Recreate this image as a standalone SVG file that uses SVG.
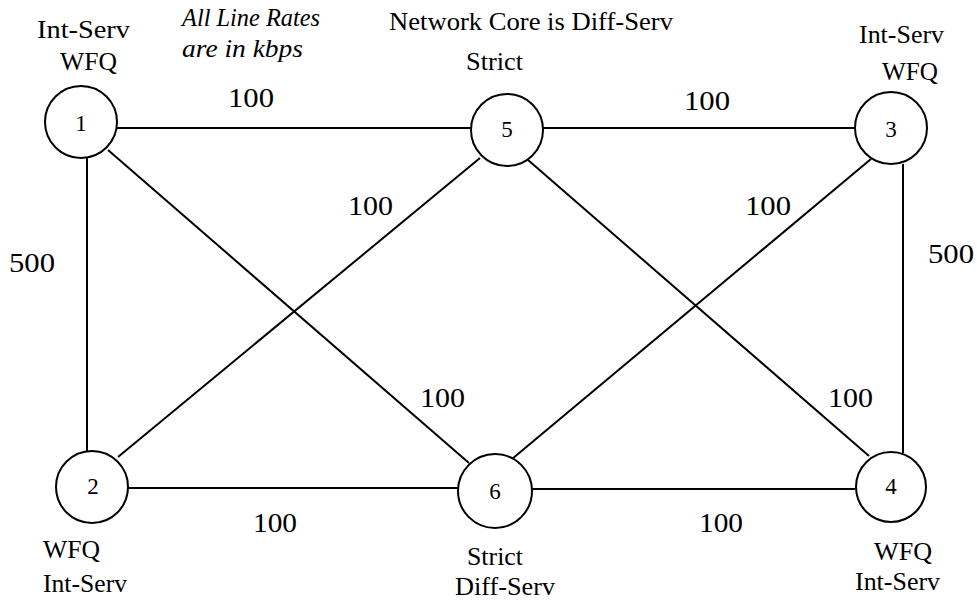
<svg xmlns="http://www.w3.org/2000/svg" width="977" height="602" viewBox="0 0 977 602" font-family="'Liberation Serif', 'DejaVu Serif', 'Times New Roman', serif">
  <style>
    text { font-family: "Liberation Serif", "DejaVu Serif", "Times New Roman", serif; fill: #000; }
    .cap { font-size: 26px; }
    .rate { font-size: 28px; }
    .num { font-size: 23px; text-anchor: middle; }
    .note { font-size: 25px; font-style: italic; }
    .link { stroke: #000; stroke-width: 2; fill: none; }
    .node { stroke: #000; stroke-width: 2; fill: #fff; }
  </style>

  <rect width="977" height="602" fill="#fff"/>

  <!-- links -->
  <g id="links">
    <line class="link" x1="117" y1="128" x2="471" y2="128"/>
    <line class="link" x1="543" y1="128" x2="855" y2="128"/>
    <line class="link" x1="128" y1="488" x2="458" y2="488"/>
    <line class="link" x1="532" y1="489" x2="855" y2="489"/>
    <line class="link" x1="87" y1="157" x2="87" y2="451"/>
    <line class="link" x1="903" y1="164" x2="903" y2="453"/>
    <line class="link" x1="108" y1="150" x2="469" y2="463"/>
    <line class="link" x1="480" y1="158" x2="118" y2="457"/>
    <line class="link" x1="528" y1="160" x2="869" y2="456"/>
    <line class="link" x1="871" y1="159" x2="512" y2="459"/>
  </g>

  <!-- link rates -->
  <g id="rates">
    <text class="rate" x="228" y="107" textLength="46" lengthAdjust="spacingAndGlyphs">100</text>
    <text class="rate" x="684" y="110" textLength="46" lengthAdjust="spacingAndGlyphs">100</text>
    <text class="rate" x="348" y="215" textLength="45" lengthAdjust="spacingAndGlyphs">100</text>
    <text class="rate" x="745" y="215" textLength="46" lengthAdjust="spacingAndGlyphs">100</text>
    <text class="rate" x="9" y="272" textLength="46" lengthAdjust="spacingAndGlyphs">500</text>
    <text class="rate" x="928" y="263" textLength="46" lengthAdjust="spacingAndGlyphs">500</text>
    <text class="rate" x="420" y="407" textLength="45" lengthAdjust="spacingAndGlyphs">100</text>
    <text class="rate" x="828" y="407" textLength="45" lengthAdjust="spacingAndGlyphs">100</text>
    <text class="rate" x="253" y="532" textLength="44" lengthAdjust="spacingAndGlyphs">100</text>
    <text class="rate" x="699" y="532" textLength="44" lengthAdjust="spacingAndGlyphs">100</text>
  </g>

  <!-- headings -->
  <g id="notes">
    <text class="note" x="182" y="26" textLength="138" lengthAdjust="spacingAndGlyphs">All Line Rates</text>
    <text class="note" x="182" y="57" textLength="121" lengthAdjust="spacingAndGlyphs">are in kbps</text>
    <text class="cap" x="389" y="30" textLength="284" lengthAdjust="spacingAndGlyphs">Network Core is Diff-Serv</text>
  </g>

  <g id="node1">
    <circle class="node" cx="81" cy="122" r="36"/>
    <text class="num" x="81" y="131">1</text>
    <text class="cap" x="37" y="38" textLength="93" lengthAdjust="spacingAndGlyphs">Int-Serv</text>
    <text class="cap" x="60" y="70" textLength="57" lengthAdjust="spacingAndGlyphs">WFQ</text>
  </g>

  <g id="node5">
    <circle class="node" cx="507" cy="130" r="36"/>
    <text class="num" x="507" y="137">5</text>
    <text class="cap" x="466" y="70" textLength="57" lengthAdjust="spacingAndGlyphs">Strict</text>
  </g>

  <g id="node3">
    <circle class="node" cx="891" cy="128" r="36"/>
    <text class="num" x="891" y="137">3</text>
    <text class="cap" x="859" y="43" textLength="85" lengthAdjust="spacingAndGlyphs">Int-Serv</text>
    <text class="cap" x="882" y="80" textLength="56" lengthAdjust="spacingAndGlyphs">WFQ</text>
  </g>

  <g id="node2">
    <circle class="node" cx="92" cy="487" r="36"/>
    <text class="num" x="93" y="494">2</text>
    <text class="cap" x="43" y="558" textLength="57" lengthAdjust="spacingAndGlyphs">WFQ</text>
    <text class="cap" x="43" y="592" textLength="84" lengthAdjust="spacingAndGlyphs">Int-Serv</text>
  </g>

  <g id="node6">
    <circle class="node" cx="495" cy="491" r="37"/>
    <text class="num" x="495" y="499">6</text>
    <text class="cap" x="467" y="565" textLength="56" lengthAdjust="spacingAndGlyphs">Strict</text>
    <text class="cap" x="455" y="595" textLength="100" lengthAdjust="spacingAndGlyphs">Diff-Serv</text>
  </g>

  <g id="node4">
    <circle class="node" cx="891" cy="487" r="35"/>
    <text class="num" x="891" y="494">4</text>
    <text class="cap" x="874" y="560" textLength="58" lengthAdjust="spacingAndGlyphs">WFQ</text>
    <text class="cap" x="855" y="590" textLength="85" lengthAdjust="spacingAndGlyphs">Int-Serv</text>
  </g>
</svg>
